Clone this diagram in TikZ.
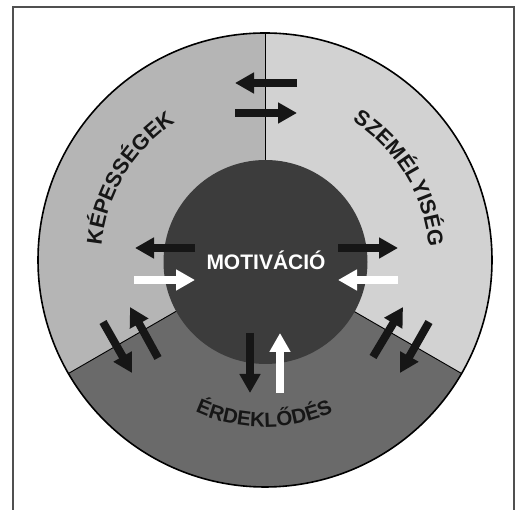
\documentclass[tikz,border=0pt]{standalone}
\usepackage{fontspec}
\setmainfont{Liberation Sans}
\usetikzlibrary{arrows.meta,decorations.text,calc}
\definecolor{lightsec}{HTML}{D2D2D2}
\definecolor{midsec}{HTML}{B5B5B5}
\definecolor{darksec}{HTML}{6A6A6A}
\definecolor{core}{HTML}{3C3C3C}
\definecolor{arrowblk}{HTML}{161616}
\definecolor{framegray}{HTML}{505050}
\begin{document}
\begin{tikzpicture}[x=1pt,y=1pt,
  blockarrow/.style={line width=8pt,-{Triangle[width=20pt,length=19pt]}},
  blk/.style={blockarrow,draw=arrowblk},
  wht/.style={blockarrow,draw=white},
  divider/.style={draw=black,line width=0.9pt},
  labelfont/.style={font=\fontsize{21}{21}\bfseries\selectfont}]
\useasboundingbox (0,0) rectangle (522,510);
% frame
\coordinate (f1) at (12.5,0);
\coordinate (f2) at (12.5,502.5);
\coordinate (f3) at (514,502.5);
\coordinate (f4) at (514,0);
\draw[framegray,line width=2pt] (f1) -- (f2) -- (f3) -- (f4);
% circles
\coordinate (O) at (265,250);
\coordinate (I) at (265.5,248);
\fill[midsec] (O) -- ($(O)+(90:227)$) arc[start angle=90,end angle=210,radius=227] -- cycle;
\fill[lightsec] (O) -- ($(O)+(-30:227)$) arc[start angle=-30,end angle=90,radius=227] -- cycle;
\fill[darksec] (O) -- ($(O)+(210:227)$) arc[start angle=210,end angle=330,radius=227] -- cycle;
\coordinate (d1) at ($(O)+(90:227)$);
\coordinate (d2) at ($(O)+(210:227)$);
\coordinate (d3) at ($(O)+(330:227)$);
\draw[divider] (O) -- (d1);
\draw[divider] (O) -- (d2);
\draw[divider] (O) -- (d3);
\draw[line width=1.6pt] (O) circle[radius=227];
\fill[core] (I) circle[radius=102];
% curved labels
\path[decorate,decoration={text along path,text align=center,
  text={|\fontsize{21.5}{21.5}\bfseries\selectfont\color{arrowblk}|KÉPESSÉGEK}}]
  ($(O)+(189:164)$) arc[start angle=189,end angle=109,radius=164];
\path[decorate,decoration={text along path,text align=center,
  text={|\fontsize{21.5}{21.5}\bfseries\selectfont\color{arrowblk}|SZEMÉLYISÉG}}]
  ($(O)+(71.2:164)$) arc[start angle=71.2,end angle=-8.8,radius=164];
\path[decorate,decoration={text along path,text align=center,
  text={|\fontsize{20.5}{20.5}\bfseries\selectfont\color{arrowblk}|ÉRDEKLŐDÉS}}]
  ($(O)+(229.7:167)$) arc[start angle=229.7,end angle=309.7,radius=167];
% centre label
\node[labelfont,text=white,anchor=base,inner sep=0pt] (mot) at (266,240) {MOTIVÁCIÓ};
% arrows
\coordinate (t1a) at (297,427); \coordinate (t1b) at (235,427);
\coordinate (t2a) at (235,397); \coordinate (t2b) at (297,397);
\coordinate (m1a) at (195,262); \coordinate (m1b) at (135,262);
\coordinate (m2a) at (134,230); \coordinate (m2b) at (195,230);
\coordinate (m3a) at (338,262); \coordinate (m3b) at (398,262);
\coordinate (m4a) at (398,230); \coordinate (m4b) at (338,230);
\coordinate (b1a) at (250,177); \coordinate (b1b) at (250,117);
\coordinate (b2a) at (280,117); \coordinate (b2b) at (280,177);
\coordinate (l1a) at (103,188); \coordinate (l1b) at (132,137);
\coordinate (l2a) at (158,152); \coordinate (l2b) at (130,203);
\coordinate (r1a) at (373,153); \coordinate (r1b) at (403,203);
\coordinate (r2a) at (429,188); \coordinate (r2b) at (400,137);
\draw[blk] (t1a) -- (t1b);
\draw[blk] (t2a) -- (t2b);
\draw[blk] (m1a) -- (m1b);
\draw[wht] (m2a) -- (m2b);
\draw[blk] (m3a) -- (m3b);
\draw[wht] (m4a) -- (m4b);
\draw[blk] (b1a) -- (b1b);
\draw[wht] (b2a) -- (b2b);
\draw[blk] (l1a) -- (l1b);
\draw[blk] (l2a) -- (l2b);
\draw[blk] (r1a) -- (r1b);
\draw[blk] (r2a) -- (r2b);
\end{tikzpicture}
\end{document}
